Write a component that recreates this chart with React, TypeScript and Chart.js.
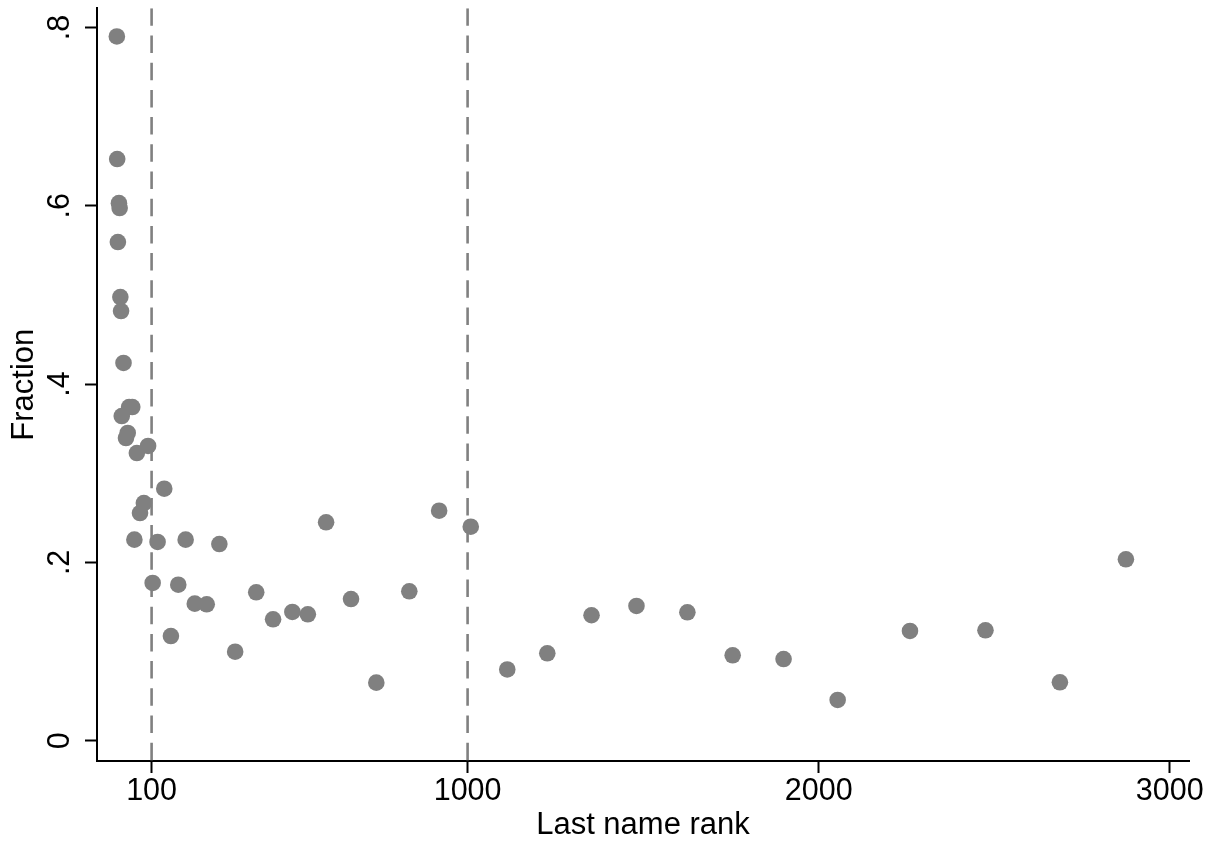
import React, { useEffect, useRef } from "react";
import { Chart, registerables } from "chart.js";

Chart.register(...registerables);

// Last name rank (x) and fraction (y)
const rankX = [
  1, 2, 7, 9, 4, 11, 13, 20, 36, 45,
  15, 32, 27, 90, 58, 136, 78, 67, 51, 117,
  197, 293, 103, 176, 223, 257, 398, 155, 338, 597,
  919, 1009, 446, 501, 545, 668, 834, 740, 1113, 1227,
  1353, 1481, 1626, 1755, 1900, 2054, 2260, 2475, 2687, 2875,
];
const fractionY = [
  0.790, 0.6525, 0.603, 0.5975, 0.5594, 0.4977, 0.482, 0.4237, 0.3743, 0.3743,
  0.3642, 0.3452, 0.3395, 0.3306, 0.3227, 0.2827, 0.2666, 0.2554, 0.2255, 0.2229,
  0.2255, 0.2206, 0.1769, 0.175, 0.1537, 0.153, 0.1665, 0.1174, 0.0998, 0.245,
  0.258, 0.24, 0.1362, 0.1444, 0.1418, 0.1589, 0.1676, 0.0651, 0.0799, 0.098,
  0.1407, 0.1511, 0.144, 0.0958, 0.0916, 0.0457, 0.1231, 0.1238, 0.0655, 0.2035,
];

const xTickValues = [100, 1000, 2000, 3000];
const xTickLabels = ["100", "1000", "2000", "3000"];
const yTickValues = [0, 0.2, 0.4, 0.6, 0.8];
const yTickLabels = ["0", ".2", ".4", ".6", ".8"];
const refLines = [100, 1000];

const X_MIN = -55.5;
const X_MAX = 3054.7;
const Y_MIN = -0.0228;
const Y_MAX = 0.8216;

const FONT_FAMILY = '"Liberation Sans", Arial, Helvetica, sans-serif';
const GREY = "rgb(128,128,128)";

const yTickLabelPlugin = {
  id: "yTickLabelsRotated",
  afterDraw(chart: any) {
    const scale = chart.scales.y;
    const ctx = chart.ctx;
    ctx.save();
    ctx.font = `30.5px ${FONT_FAMILY}`;
    ctx.fillStyle = "#000";
    ctx.textAlign = "center";
    ctx.textBaseline = "alphabetic";
    scale.ticks.forEach((t: any) => {
      const idx = yTickValues.indexOf(t.value);
      const label = idx >= 0 ? yTickLabels[idx] : String(t.value);
      const py = scale.getPixelForValue(t.value);
      ctx.save();
      ctx.translate(scale.right - 28.5, py);
      ctx.rotate(-Math.PI / 2);
      ctx.fillText(label, 0, 0);
      ctx.restore();
    });
    ctx.restore();
  },
};

export default function App() {
  const canvasRef = useRef<HTMLCanvasElement | null>(null);

  useEffect(() => {
    if (!canvasRef.current) return;
    const points = rankX.map((x, i) => ({ x, y: fractionY[i] }));
    const lineSets = refLines.map((v) => ({
      type: "line" as const,
      data: [
        { x: v, y: Y_MAX },
        { x: v, y: Y_MIN },
      ],
      borderColor: GREY,
      borderWidth: 2.6,
      borderDash: [17.5, 9.7],
      pointRadius: 0,
      showLine: true,
      fill: false,
      order: 1,
    }));

    const chart = new Chart(canvasRef.current, {
      type: "scatter",
      data: {
        datasets: [
          ...lineSets,
          {
            type: "scatter" as const,
            data: points,
            backgroundColor: GREY,
            borderWidth: 0,
            pointRadius: 8.3,
            pointHoverRadius: 8.3,
            order: 2,
          },
        ] as any,
      },
      options: {
        animation: false,
        responsive: false,
        events: [],
        layout: { padding: { top: 8, right: 28, left: 0, bottom: 0 } },
        plugins: {
          legend: { display: false },
          tooltip: { enabled: false },
        },
        scales: {
          x: {
            type: "linear",
            min: X_MIN,
            max: X_MAX,
            afterBuildTicks: (scale: any) => {
              scale.ticks = xTickValues.map((v) => ({ value: v }));
            },
            afterFit: (scale: any) => {
              scale.height = 82;
            },
            border: { display: true, color: "#000", width: 2 },
            grid: {
              display: true,
              drawOnChartArea: false,
              drawTicks: true,
              tickLength: 12,
              tickColor: "#000",
              tickWidth: 2,
            },
            ticks: {
              autoSkip: false,
              maxRotation: 0,
              minRotation: 0,
              padding: 0,
              color: "#000",
              font: { family: FONT_FAMILY, size: 30.5, lineHeight: 1.2 },
              callback: (value: any) => {
                const idx = xTickValues.indexOf(Number(value));
                return idx >= 0 ? xTickLabels[idx] : "";
              },
            },
            title: {
              display: true,
              text: "Last name rank",
              color: "#000",
              font: { family: FONT_FAMILY, size: 31, lineHeight: 1.1 },
              padding: { top: 0, bottom: 0 },
            },
          },
          y: {
            type: "linear",
            min: Y_MIN,
            max: Y_MAX,
            afterBuildTicks: (scale: any) => {
              scale.ticks = yTickValues.map((v) => ({ value: v }));
            },
            afterFit: (scale: any) => {
              scale.width = 97;
            },
            border: { display: true, color: "#000", width: 2 },
            grid: {
              display: true,
              drawOnChartArea: false,
              drawTicks: true,
              tickLength: 12,
              tickColor: "#000",
              tickWidth: 2,
            },
            ticks: {
              display: false,
              autoSkip: false,
            },
            title: {
              display: true,
              text: "Fraction",
              color: "#000",
              font: { family: FONT_FAMILY, size: 31, lineHeight: 1.1 },
              padding: { top: 7, bottom: 0 },
            },
          },
        },
      } as any,
      plugins: [yTickLabelPlugin],
    });

    return () => {
      chart.destroy();
    };
  }, []);

  return (
    <div
      style={{
        position: "absolute",
        left: 0,
        top: 0,
        width: 1217,
        height: 843,
        background: "#fff",
      }}
    >
      <canvas ref={canvasRef} width={1217} height={843} style={{ display: "block" }} />
    </div>
  );
}
